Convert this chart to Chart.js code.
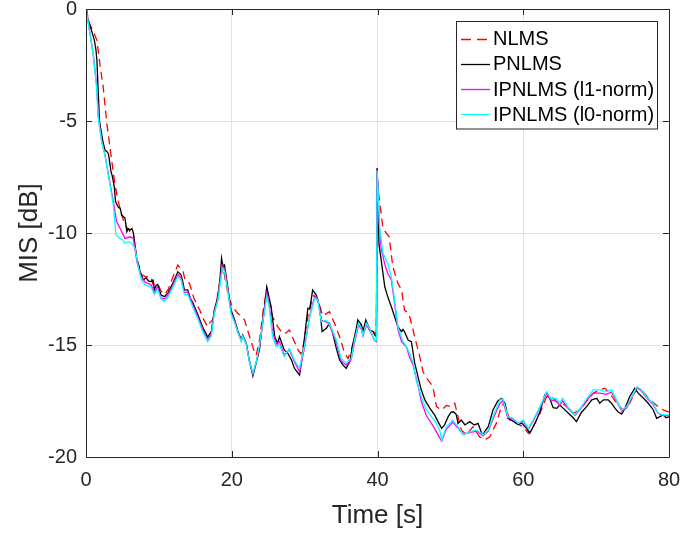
<!DOCTYPE html>
<html>
<head>
<meta charset="utf-8">
<title>MIS convergence</title>
<script src="https://cdn.jsdelivr.net/npm/chart.js@4/dist/chart.umd.min.js"></script>
<style>
  html, body { margin: 0; padding: 0; background: #ffffff; }
  #wrap { position: relative; width: 683px; height: 539px; }
</style>
</head>
<body>
<div id="wrap"><canvas id="mis"></canvas></div>
<script>
// Misalignment (dB) versus time (s) for the four adaptive filters: [time, MIS]
const seriesNames = ['NLMS', 'PNLMS', 'IPNLMS (l1-norm)', 'IPNLMS (l0-norm)'];
const xTicks = [0, 20, 40, 60, 80];
const yTicks = [-20, -15, -10, -5, 0];

const nlmsPoints = [
  [0,0],[0.55,-0.71],[1.14,-1.1],[1.5,-1.4],[1.92,-2.5],[2.38,-3.54],[2.83,-5.03],[3.3,-6.22],
  [3.98,-7.86],[4.44,-8.6],[4.9,-9.2],[5.35,-9.64],[6.04,-9.94],[6.5,-10.09],[6.95,-11.1],
  [7.64,-11.87],[8.2,-11.95],[8.9,-11.95],[9.2,-12.3],[9.84,-12.25],[10.3,-12.6],[10.8,-12.75],
  [11.3,-12.5],[12.0,-11.9],[12.6,-11.43],[13.0,-11.6],[13.3,-11.7],[13.6,-12.1],[14.2,-12.25],
  [14.8,-12.9],[15.6,-13.44],[16.2,-13.9],[16.7,-14.18],[17.0,-14.0],[17.4,-13.88],[17.8,-13.3],
  [18.3,-12.3],[18.8,-11.5],[19.2,-12.25],[19.6,-12.9],[20.1,-13.29],[20.8,-13.58],[21.3,-13.7],
  [21.75,-13.88],[22.45,-14.63],[23.0,-15.2],[23.35,-15.45],[23.8,-14.8],[24.3,-13.5],[24.8,-12.5],
  [25.2,-13.1],[25.6,-13.74],[26.3,-14.18],[26.8,-14.4],[27.3,-14.5],[27.9,-14.33],[28.6,-14.85],
  [29.1,-15.22],[29.5,-15.4],[29.9,-14.9],[30.5,-13.6],[31.2,-12.8],[31.8,-13.0],[32.5,-13.7],
  [33.0,-13.6],[33.4,-13.51],[34.1,-14.03],[34.8,-14.63],[35.5,-15.37],[35.95,-15.6],[36.4,-15.22],
  [37.1,-14.4],[37.6,-14.1],[38.0,-14.3],[38.5,-14.0],[39.0,-14.3],[39.5,-14.4],[39.85,-14.55],
  [39.95,-7.11],[40.1,-8.08],[40.75,-9.79],[41.4,-10.09],[41.6,-10.17],[42.1,-11.5],[42.8,-12.25],
  [43.3,-12.54],[43.7,-13.44],[44.3,-13.58],[44.65,-14.03],[45.1,-14.63],[45.8,-15.52],[46.25,-16.2],
  [46.8,-16.5],[47.6,-16.86],[48.1,-17.75],[48.8,-17.9],[49.45,-17.7],[50.1,-17.75],[50.6,-17.6],
  [51.5,-18.8],[52.2,-19.0],[53.1,-18.65],[54.0,-19.1],[54.7,-19.24],[55.4,-19.1],[56.3,-18.5],
  [57.0,-17.75],[57.4,-17.6],[58.15,-18.35],[59.1,-18.5],[60.0,-18.65],[60.7,-18.94],[61.35,-18.65],
  [62.3,-18.05],[63.2,-17.31],[63.85,-17.3],[64.6,-17.53],[65.3,-17.6],[66.0,-17.75],[66.85,-18.05],
  [67.8,-17.9],[68.7,-17.5],[69.6,-17.16],[70.5,-17.0],[71.2,-16.93],[71.9,-17.16],[72.8,-17.6],
  [73.7,-17.9],[74.6,-17.6],[75.6,-16.93],[76.2,-17.0],[77.4,-17.45],[78.5,-17.75],[79.2,-17.9],
  [80.0,-18.0]
];

const pnlmsPoints = [
  [0,0],[0.1,-0.27],[0.6,-0.8],[1.14,-1.38],[1.37,-1.83],[1.5,-2.3],[1.69,-3.8],[1.85,-5.0],
  [2.28,-5.85],[2.6,-6.3],[2.97,-6.4],[3.1,-6.5],[3.43,-7.26],[3.6,-7.45],[3.89,-7.95],[4.05,-8.6],
  [4.44,-8.85],[4.7,-8.9],[4.9,-9.2],[5.35,-9.33],[5.6,-9.94],[5.8,-9.8],[6.04,-9.87],[6.3,-9.8],
  [6.5,-10.0],[6.95,-11.1],[7.4,-11.7],[7.87,-12.1],[8.24,-12.0],[8.6,-12.15],[8.9,-12.17],
  [9.2,-12.1],[9.38,-12.54],[9.6,-12.35],[9.84,-12.3],[10.3,-12.77],[10.76,-12.84],[11.2,-12.7],
  [11.9,-12.25],[12.6,-11.73],[13.05,-11.87],[13.3,-12.2],[13.5,-12.54],[13.96,-12.54],[14.3,-12.9],
  [14.65,-13.1],[15.3,-13.6],[16.0,-14.2],[16.7,-14.65],[17.2,-14.4],[17.6,-13.44],[18.1,-12.84],
  [18.4,-12.0],[18.6,-11.13],[18.8,-11.5],[19.0,-11.43],[19.45,-12.4],[19.9,-13.44],[20.4,-13.88],
  [20.8,-14.33],[21.3,-14.78],[21.5,-14.55],[22.0,-14.93],[22.4,-15.67],[22.9,-16.38],[23.35,-15.8],
  [23.8,-15.22],[24.26,-13.88],[24.5,-13.3],[24.8,-12.4],[25.0,-12.7],[25.4,-13.29],[25.9,-14.63],
  [26.3,-14.93],[26.55,-14.63],[27.2,-15.22],[27.7,-15.37],[28.2,-15.67],[28.6,-16.04],[29.3,-16.34],
  [29.75,-15.37],[30.2,-14.03],[30.45,-13.36],[30.7,-13.4],[31.1,-12.54],[31.6,-12.77],[32.05,-13.29],
  [32.4,-14.4],[33.0,-14.25],[33.4,-14.03],[33.8,-14.4],[34.35,-15.15],[34.8,-15.67],[35.25,-15.89],
  [35.7,-16.04],[36.2,-15.74],[36.6,-15.0],[37.1,-14.25],[37.3,-13.88],[37.8,-14.1],[38.0,-14.4],
  [38.4,-13.88],[38.9,-14.33],[39.4,-14.4],[39.6,-14.55],[39.85,-14.63],[39.95,-7.11],[40.2,-10.5],
  [40.5,-11.2],[41.0,-12.4],[41.4,-12.84],[41.9,-13.29],[42.35,-13.74],[42.8,-14.18],[43.3,-14.4],
  [43.5,-14.3],[43.7,-14.4],[44.2,-14.78],[44.65,-14.85],[45.1,-15.8],[45.55,-16.4],[46.0,-17.0],
  [46.5,-17.45],[47.2,-17.83],[47.85,-18.13],[48.3,-18.42],[48.8,-18.72],[49.2,-18.57],[49.7,-18.2],
  [50.1,-18.0],[50.4,-17.98],[50.8,-18.1],[51.05,-18.5],[51.5,-18.35],[52.0,-18.57],[52.65,-18.42],
  [53.3,-18.57],[53.8,-18.5],[54.3,-18.94],[54.5,-19.0],[54.7,-18.87],[55.2,-18.65],[55.85,-17.9],
  [56.5,-17.5],[57.0,-17.38],[57.5,-17.6],[57.9,-18.27],[58.6,-18.4],[59.3,-18.55],[59.8,-18.48],
  [60.45,-18.72],[60.9,-18.94],[61.6,-18.5],[62.3,-17.98],[62.95,-17.23],[63.2,-17.16],[63.65,-17.4],
  [64.1,-17.8],[64.6,-17.83],[65.0,-17.68],[65.5,-17.83],[66.2,-18.05],[66.85,-18.25],[67.3,-18.42],
  [68.0,-18.0],[68.7,-17.75],[69.4,-17.45],[70.1,-17.38],[70.5,-17.6],[71.0,-17.45],[71.65,-17.45],
  [72.1,-17.6],[72.6,-17.83],[73.0,-17.98],[73.5,-18.08],[73.95,-17.83],[74.6,-17.31],[75.3,-16.93],
  [75.8,-17.16],[76.5,-17.38],[77.15,-17.6],[77.85,-17.9],[78.3,-18.27],[78.75,-18.2],[79.2,-18.12],
  [79.6,-18.25],[80.0,-18.2]
];

const ipnlmsL1Points = [
  [0,0],[0.5,-1.0],[1.0,-2.05],[1.46,-3.4],[1.69,-4.8],[2.15,-5.9],[2.6,-6.5],[3.3,-7.8],
  [3.75,-8.6],[4.2,-9.49],[4.9,-9.94],[5.35,-10.24],[6.04,-10.17],[6.5,-10.24],[7.0,-11.3],
  [7.5,-11.9],[8.1,-12.2],[8.9,-12.3],[9.4,-12.65],[9.8,-12.4],[10.3,-12.9],[10.76,-12.95],
  [11.2,-12.8],[11.9,-12.35],[12.6,-11.85],[13.05,-12.0],[13.5,-12.65],[13.96,-12.65],[14.65,-13.2],
  [15.3,-13.7],[16.0,-14.3],[16.7,-14.8],[17.2,-14.5],[17.6,-13.55],[18.1,-12.95],[18.7,-11.45],
  [19.0,-11.6],[19.45,-12.5],[19.9,-13.55],[20.4,-13.95],[20.8,-14.4],[21.3,-14.8],[21.5,-14.6],
  [22.0,-14.95],[22.4,-15.7],[22.9,-16.3],[23.35,-15.8],[23.8,-15.1],[24.3,-13.9],[24.8,-12.7],
  [25.1,-13.1],[25.6,-14.4],[26.1,-14.95],[26.55,-14.85],[27.2,-15.45],[27.9,-15.2],[28.6,-15.75],
  [29.3,-16.2],[30.0,-15.1],[30.7,-13.7],[31.4,-12.8],[31.8,-12.95],[32.3,-13.9],[32.8,-13.95],
  [33.2,-14.0],[33.6,-14.25],[34.35,-14.9],[35.0,-15.7],[35.7,-15.9],[36.4,-15.65],[36.9,-14.8],
  [37.4,-14.1],[37.8,-14.3],[38.0,-14.6],[38.5,-14.1],[39.1,-14.45],[39.6,-14.8],[39.85,-14.85],
  [39.95,-7.2],[40.3,-9.9],[40.5,-10.7],[41.0,-11.4],[41.4,-11.8],[41.9,-12.1],[42.35,-13.15],[42.8,-14.3],
  [43.3,-14.85],[44.0,-15.1],[44.4,-15.55],[44.9,-15.9],[45.55,-16.8],[46.0,-17.5],[46.7,-18.15],
  [47.6,-18.6],[48.3,-19.0],[48.8,-19.3],[49.45,-18.75],[49.9,-18.6],[50.3,-18.45],[51.05,-18.7],
  [51.75,-19.0],[52.65,-18.9],[53.6,-18.85],[54.5,-19.05],[55.2,-18.85],[55.85,-18.3],[56.8,-17.6],
  [57.2,-17.5],[57.9,-18.25],[58.6,-18.3],[59.3,-18.5],[60.0,-18.4],[60.7,-18.75],[61.35,-18.4],
  [62.3,-17.8],[63.2,-17.15],[63.8,-17.45],[64.5,-17.5],[65.0,-17.7],[65.4,-17.5],[66.1,-17.8],
  [67.1,-18.15],[68.0,-17.8],[68.9,-17.4],[69.6,-17.15],[70.5,-17.15],[71.4,-17.2],[72.1,-17.1],
  [72.8,-17.5],[73.5,-17.95],[74.2,-17.8],[74.9,-17.35],[75.6,-16.9],[76.2,-17.05],[76.9,-17.35],
  [77.8,-17.65],[78.5,-18.05],[79.2,-18.15],[80.0,-18.15]
];

const ipnlmsL0Points = [
  [0,0],[0.5,-1.0],[1.0,-2.05],[1.46,-3.54],[1.69,-4.88],[2.15,-5.92],[2.6,-6.52],[3.3,-7.86],
  [3.75,-8.75],[4.12,-10.1],[4.67,-10.24],[5.0,-10.3],[5.35,-10.46],[5.8,-10.39],[6.27,-10.46],
  [6.72,-10.68],[7.2,-11.55],[7.64,-12.15],[8.3,-12.35],[8.9,-12.4],[9.4,-12.75],[9.8,-12.5],
  [10.3,-12.95],[10.76,-13.05],[11.2,-12.9],[11.9,-12.45],[12.6,-11.95],[13.05,-12.1],[13.5,-12.75],
  [13.96,-12.75],[14.65,-13.3],[15.3,-13.8],[16.0,-14.4],[16.7,-14.85],[17.2,-14.6],[17.6,-13.6],
  [18.1,-13.0],[18.7,-11.58],[19.0,-11.7],[19.45,-12.6],[19.9,-13.6],[20.4,-14.0],[20.8,-14.4],
  [21.3,-14.85],[21.5,-14.6],[22.0,-15.0],[22.4,-15.7],[22.9,-16.25],[23.35,-15.75],[23.8,-15.0],
  [24.3,-13.9],[24.8,-12.84],[25.1,-13.2],[25.6,-14.63],[26.1,-15.07],[26.55,-15.0],[27.2,-15.52],
  [27.9,-15.15],[28.6,-15.67],[29.3,-16.04],[30.0,-15.0],[30.7,-13.74],[31.4,-12.9],[31.8,-13.0],
  [32.3,-13.96],[32.8,-13.9],[33.2,-13.95],[33.6,-14.18],[34.35,-14.78],[35.0,-15.6],[35.7,-15.8],
  [36.4,-15.6],[36.9,-14.7],[37.4,-14.03],[37.8,-14.25],[38.0,-14.55],[38.5,-14.03],[39.1,-14.4],
  [39.6,-14.78],[39.85,-14.8],[39.95,-7.2],[40.3,-9.8],[40.75,-10.9],[41.4,-11.35],[41.9,-11.95],
  [42.35,-13.0],[42.8,-14.18],[43.5,-14.85],[43.96,-15.07],[44.4,-15.37],[44.9,-15.8],[45.3,-16.56],
  [46.0,-17.3],[46.7,-17.9],[47.4,-18.2],[48.1,-18.5],[48.6,-18.87],[48.8,-19.25],[49.45,-18.65],
  [49.9,-18.5],[50.3,-18.35],[51.05,-18.65],[51.75,-19.0],[52.65,-18.87],[53.6,-18.8],[54.5,-19.0],
  [55.2,-18.8],[55.85,-18.2],[56.8,-17.45],[57.2,-17.4],[57.9,-18.2],[58.6,-18.27],[59.3,-18.5],
  [60.0,-18.35],[60.7,-18.72],[61.35,-18.35],[62.3,-17.75],[63.2,-17.08],[63.8,-17.38],[64.5,-17.38],
  [65.0,-17.6],[65.4,-17.38],[66.1,-17.75],[67.1,-18.12],[68.0,-17.75],[68.9,-17.3],[69.6,-17.0],
  [70.5,-17.0],[71.4,-17.08],[72.1,-17.0],[72.8,-17.45],[73.5,-17.9],[74.2,-17.75],[74.9,-17.3],
  [75.6,-16.86],[76.2,-17.0],[76.9,-17.3],[77.8,-17.6],[78.5,-18.05],[79.2,-18.12],[80.0,-18.12]
];

const FONT = "'Liberation Sans', Arial, Helvetica, sans-serif";
const INK = '#262626';
const GRID = '#e1e1e1';
const seriesColors = ['#ff0000', '#000000', '#ff00ff', '#00ffff'];
const seriesDash = [[8, 5], [], [], []];
const allPoints = [nlmsPoints, pnlmsPoints, ipnlmsL1Points, ipnlmsL0Points];

const toXY = pts => pts.map(p => ({ x: p[0], y: p[1] }));

// Box frame, inward tick marks on all four sides and an in-plot legend
const framePlugin = {
  id: 'frameLegend',
  afterDatasetsDraw(chart) {
    const { ctx, chartArea: a, scales } = chart;
    const xs = scales.x, ys = scales.y;
    const tick = 6;
    ctx.save();
    ctx.strokeStyle = INK;
    ctx.lineWidth = 1;
    ctx.beginPath();
    ctx.rect(Math.round(a.left) + 0.5, Math.round(a.top) + 0.5,
             Math.round(a.right) - Math.round(a.left), Math.round(a.bottom) - Math.round(a.top));
    ctx.stroke();
    ctx.beginPath();
    xTicks.forEach(v => {
      const px = Math.round(xs.getPixelForValue(v)) + 0.5;
      ctx.moveTo(px, a.bottom); ctx.lineTo(px, a.bottom - tick);
      ctx.moveTo(px, a.top); ctx.lineTo(px, a.top + tick);
    });
    yTicks.forEach(v => {
      const py = Math.round(ys.getPixelForValue(v)) + 0.5;
      ctx.moveTo(a.left, py); ctx.lineTo(a.left + tick, py);
      ctx.moveTo(a.right, py); ctx.lineTo(a.right - tick, py);
    });
    ctx.stroke();

    // legend
    const lx = 456.5, ly = 21.5, lw = 201, lh = 107.5;
    ctx.fillStyle = '#ffffff';
    ctx.fillRect(lx, ly, lw, lh);
    ctx.strokeStyle = INK;
    ctx.strokeRect(lx, ly, lw, lh);
    ctx.font = '20px ' + FONT;
    ctx.textBaseline = 'middle';
    ctx.textAlign = 'left';
    seriesNames.forEach((name, i) => {
      const cy = ly + 17 + i * 25.3;
      ctx.beginPath();
      ctx.strokeStyle = seriesColors[i];
      ctx.lineWidth = 1.3;
      ctx.setLineDash(i === 0 ? [10, 6] : []);
      ctx.moveTo(461, Math.round(cy) + 0.5);
      ctx.lineTo(490, Math.round(cy) + 0.5);
      ctx.stroke();
      ctx.setLineDash([]);
      ctx.fillStyle = '#000000';
      ctx.fillText(name, 493, cy + 1);
    });
    ctx.restore();
  }
};

new Chart(document.getElementById('mis'), {
  type: 'line',
  data: {
    datasets: seriesNames.map((name, i) => ({
      label: name,
      data: toXY(allPoints[i]),
      borderColor: seriesColors[i],
      borderDash: seriesDash[i],
      borderWidth: 1.3,
      pointRadius: 0,
      tension: 0,
      fill: false,
      order: 4 - i
    }))
  },
  options: {
    responsive: true,
    maintainAspectRatio: false,
    animation: false,
    events: [],
    layout: { padding: { left: 0, right: 14, top: 9, bottom: 0 } },
    plugins: { legend: { display: false }, tooltip: { enabled: false } },
    scales: {
      x: {
        type: 'linear',
        min: 0, max: 80,
        afterBuildTicks: s => { s.ticks = xTicks.map(v => ({ value: v })); },
        afterFit: s => { s.height = 82; s.paddingLeft = 0; s.paddingRight = 0; },
        grid: { color: GRID, lineWidth: 1, drawTicks: false },
        border: { display: false },
        ticks: { color: INK, font: { family: FONT, size: 20 }, padding: 11, maxRotation: 0,
                 callback: v => String(v) },
        title: { display: true, text: 'Time [s]', color: INK,
                 font: { family: FONT, size: 26 }, padding: { top: 0, bottom: 8 } }
      },
      y: {
        type: 'linear',
        min: -20, max: 0,
        afterBuildTicks: s => { s.ticks = yTicks.map(v => ({ value: v })); },
        afterFit: s => { s.width = 86; s.paddingTop = 0; s.paddingBottom = 0; },
        grid: { color: GRID, lineWidth: 1, drawTicks: false },
        border: { display: false },
        ticks: { color: INK, font: { family: FONT, size: 20 }, padding: 9,
                 callback: v => String(v) },
        title: { display: true, text: 'MIS [dB]', color: INK,
                 font: { family: FONT, size: 26 }, padding: { top: 14, bottom: 0 } }
      }
    }
  },
  plugins: [framePlugin]
});
</script>
</body>
</html>
